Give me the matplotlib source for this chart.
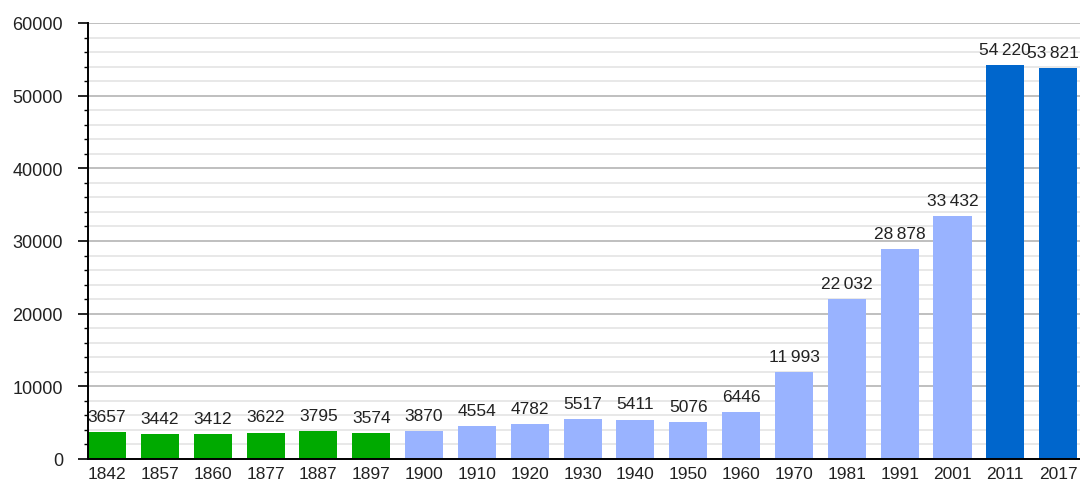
import matplotlib
matplotlib.use("Agg")
import matplotlib.pyplot as plt
from matplotlib.ticker import MultipleLocator

years = ["1842", "1857", "1860", "1877", "1887", "1897", "1900", "1910", "1920",
         "1930", "1940", "1950", "1960", "1970", "1981", "1991", "2001", "2011", "2017"]
population = [3657, 3442, 3412, 3622, 3795, 3574, 3870, 4554, 4782,
              5517, 5411, 5076, 6446, 11993, 22032, 28878, 33432, 54220, 53821]
period = ["old"] * 6 + ["mid"] * 11 + ["new"] * 2
period_colors = {"old": "#00aa00", "mid": "#99b3ff", "new": "#0066cc"}

plt.rcParams['font.family'] = ['Liberation Sans', 'DejaVu Sans']

fig = plt.figure(figsize=(10.8, 4.81), dpi=100)
# axes extends slightly past the right edge of the figure, as in the reference
ax = fig.add_axes([88 / 1080, 21 / 481, 1004 / 1080, 436 / 481])

n = len(years)
xs = list(range(n))
bw = 0.72
ax.bar(xs, population, width=bw, align='edge',
       color=[period_colors[p] for p in period], zorder=3)

def fmt(v):
    if v >= 10000:
        return f"{v:,}".replace(",", "\u2009")
    return str(v)

labels = []
for x, v in zip(xs, population):
    t = ax.annotate(fmt(v), (x + bw / 2, v), xytext=(0, 6), textcoords='offset points',
                    ha='center', va='bottom', fontsize=12.5, color='#222222', zorder=4)
    labels.append(t)

ax.set_xlim(0, n)
ax.set_ylim(0, 60000)
ax.set_xticks([x + bw / 2 for x in xs])
ax.set_xticklabels(years, fontsize=12.5, color='#222222')
ax.tick_params(axis='x', length=0, pad=5)

ax.yaxis.set_major_locator(MultipleLocator(10000))
ax.yaxis.set_minor_locator(MultipleLocator(2000))
ax.tick_params(axis='y', which='major', length=7, width=1.2, direction='out',
               labelsize=13, labelcolor='#222222', pad=11)
ax.tick_params(axis='y', which='minor', length=3, width=1.0, direction='out')

ax.grid(axis='y', which='major', color='#b4b4b4', linewidth=1.2, zorder=0)
ax.grid(axis='y', which='minor', color='#e4e4e4', linewidth=1.2, zorder=0)

for s in ['top', 'right']:
    ax.spines[s].set_visible(False)
ax.spines['left'].set_linewidth(1.4)
ax.spines['bottom'].set_linewidth(1.4)
ax.spines['left'].set_zorder(5)
ax.spines['bottom'].set_zorder(5)

# keep labels inside the figure: nudge any that would cross the right edge
fig.canvas.draw()
renderer = fig.canvas.get_renderer()
W = fig.bbox.width
for t in labels:
    bb = t.get_window_extent(renderer)
    if bb.x1 > W - 1:
        dx_pts = (bb.x1 - (W - 1)) * 72 / fig.dpi
        t.set_position((-dx_pts, 6))

fig.savefig("out.png", dpi=100)
